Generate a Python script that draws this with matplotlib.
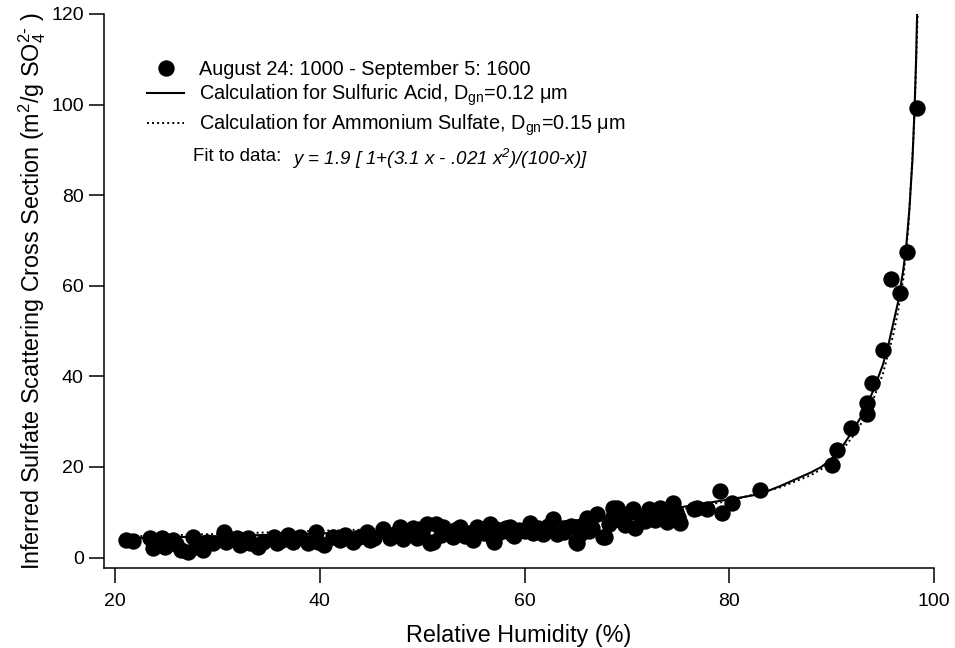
"""Inferred sulfate scattering cross section vs. relative humidity."""

import matplotlib

matplotlib.use("Agg")
import matplotlib.pyplot as plt

plt.rcParams["font.family"] = ["Liberation Sans", "DejaVu Sans"]
plt.rcParams["mathtext.default"] = "regular"

# measured points, August 24 - September 5
rh = [
    21.1, 21.8, 23.4, 23.7, 24.6, 24.9, 25.7, 26.4, 27.1, 27.6,
    28.0, 28.6, 29.0, 29.6, 30.6, 30.8, 31.9, 32.2, 33.0, 33.2,
    34.0, 34.5, 35.5, 35.8, 36.9, 37.4, 38.1, 38.8, 39.6, 39.8,
    40.4, 41.3, 42.5, 43.2, 43.8, 44.6, 45.3, 46.2, 46.9, 47.8,
    48.1, 48.6, 49.1, 49.5, 50.0, 50.5, 50.8, 51.1, 51.4, 51.8,
    52.0, 52.7, 53.2, 53.7, 54.2, 54.7, 55.0, 55.4, 56.0, 56.6,
    56.9, 57.0, 57.2, 57.6, 58.2, 58.6, 58.8, 59.5, 60.5, 60.8,
    61.3, 61.8, 62.3, 62.8, 63.2, 63.9, 64.5, 65.0, 65.1, 65.4,
    65.8, 66.1, 66.6, 67.1, 67.7, 67.9, 68.3, 68.6, 68.6, 69.0,
    69.5, 70.0, 70.6, 70.8, 71.4, 72.2, 72.7, 73.2, 73.9, 74.5,
    74.8, 75.2, 76.6, 76.8, 77.8, 79.1, 79.3, 80.3, 83.0, 90.0,
    90.5, 91.9, 93.5, 93.5, 93.9, 95.0, 95.8, 96.7, 97.4, 98.3,
    26.0, 31.2, 36.3, 42.0, 44.9, 47.3, 49.8, 53.0, 55.8, 59.0,
    60.0, 62.0, 64.0, 66.3, 69.8, 71.8, 73.6, 75.0,
]
sigma = [
    3.9, 3.7, 4.3, 2.1, 4.3, 2.3, 3.9, 1.7, 1.2, 4.5,
    2.3, 1.7, 3.4, 3.2, 5.6, 3.4, 4.3, 2.8, 4.3, 3.2,
    2.3, 3.4, 4.5, 3.2, 5.0, 3.4, 4.5, 3.2, 5.6, 3.4,
    2.8, 4.5, 5.0, 3.4, 4.5, 5.7, 4.2, 6.2, 4.4, 6.8,
    4.0, 5.2, 6.6, 4.4, 5.5, 7.3, 3.2, 3.5, 7.3, 5.0,
    6.8, 5.1, 6.0, 6.8, 4.8, 5.5, 3.8, 6.8, 5.5, 7.3,
    4.0, 3.4, 6.3, 5.7, 6.5, 6.8, 5.1, 6.0, 7.7, 5.5,
    6.5, 5.1, 7.0, 8.4, 5.1, 5.7, 7.0, 3.4, 3.3, 5.1,
    7.5, 8.8, 6.5, 9.5, 4.6, 4.5, 7.3, 11.0, 9.0, 11.0,
    8.0, 9.5, 10.6, 6.6, 9.0, 10.6, 8.2, 11.0, 7.9, 12.1,
    10.0, 7.7, 10.6, 11.0, 10.6, 14.6, 9.9, 12.1, 14.8, 20.5,
    23.8, 28.5, 31.6, 34.2, 38.6, 45.9, 61.4, 58.5, 67.5, 99.3,
    3.0, 4.0, 3.9, 3.8, 3.9, 5.3, 6.3, 4.6, 6.1, 4.7,
    5.9, 6.0, 6.2, 5.9, 7.2, 8.0, 9.8, 9.0,
]

# calculated curves
rh_sulfuric = [
    20.5, 30, 40, 50, 60, 65, 70, 75, 78, 81, 83, 85, 86, 88, 89, 90,
    91, 92, 93, 94, 95, 95.5, 96, 96.5, 97, 97.3, 97.6, 97.9, 98.1,
    98.25, 98.35,
]
sig_sulfuric = [
    4.2, 4.7, 5.3, 6.2, 7.3, 8.2, 9.5, 11.0, 12.1, 13.2, 14.0, 15.8,
    16.8, 18.8, 20.0, 21.8, 24.3, 27.8, 31.5, 36.5, 42.5, 46.5, 51.5,
    56.5, 63.5, 69, 77, 88, 99, 110, 120,
]
rh_ammonium = [
    20.5, 30, 40, 50, 60, 70, 75, 80, 85, 88, 90, 92, 93, 94, 95, 96,
    96.5, 97, 97.5, 98, 98.2, 98.4,
]
sig_ammonium = [
    4.6, 5.2, 5.9, 6.5, 7.3, 9.0, 10.5, 12.5, 15.5, 18.2, 20.8, 26.5,
    30, 34.5, 40.5, 49, 54.5, 61.5, 73, 93, 105, 120,
]

label_data = "August 24: 1000 - September 5: 1600"
label_sulfuric = r"Calculation for Sulfuric Acid, D$_{gn}$=0.12 μm"
label_ammonium = r"Calculation for Ammonium Sulfate, D$_{gn}$=0.15 μm"

W, H = 955, 648
fig = plt.figure(figsize=(W / 100, H / 100), dpi=100)
ax = fig.add_axes([104 / W, (H - 567.7) / H, 830 / W, 553.7 / H])

ax.plot(rh, sigma, "o", color="black", ms=11.8, mew=0, label=label_data, zorder=3)
ax.plot(rh_sulfuric, sig_sulfuric, "-", color="black", lw=1.5,
        label=label_sulfuric, zorder=4)
ax.plot(rh_ammonium, sig_ammonium, color="black", lw=1.4, dashes=(1, 1.6),
        label=label_ammonium, zorder=4)

ax.set_xlim(18.92, 100)
ax.set_ylim(-2.25, 120)
ax.set_xticks([20, 40, 60, 80, 100])
ax.set_yticks([0, 20, 40, 60, 80, 100, 120])

for side in ("top", "right"):
    ax.spines[side].set_visible(False)
for side in ("left", "bottom"):
    ax.spines[side].set_linewidth(1.1)
ax.tick_params(axis="both", direction="out", length=10.5, width=1.1,
               labelsize=14, colors="black")
ax.tick_params(axis="x", pad=8)
ax.tick_params(axis="y", pad=4)

ax.set_xlabel("Relative Humidity (%)", fontsize=16.8, labelpad=10)
ax.set_ylabel(r"Inferred Sulfate Scattering Cross Section (m$^2$/g SO$_4^{2\text{-}}$ )",
              fontsize=16.8, labelpad=2)

leg = ax.legend(loc="upper left", bbox_to_anchor=(0.052, 0.917), frameon=False,
                fontsize=14.3, numpoints=1, handlelength=1.85, handletextpad=0.75,
                borderaxespad=0, borderpad=0, labelspacing=0.2)

fit = ax.text(0.107, 0.734, "Fit to data:  ", transform=ax.transAxes,
              fontsize=13.5, ha="left", va="baseline")
ax.annotate(r"y = 1.9 [ 1+(3.1 x - .021 x$^2$)/(100-x)]", xy=(1, 0),
            xycoords=fit, fontsize=13.5, style="italic", ha="left",
            va="baseline")

fig.savefig("out.png", dpi=100, facecolor="white")
